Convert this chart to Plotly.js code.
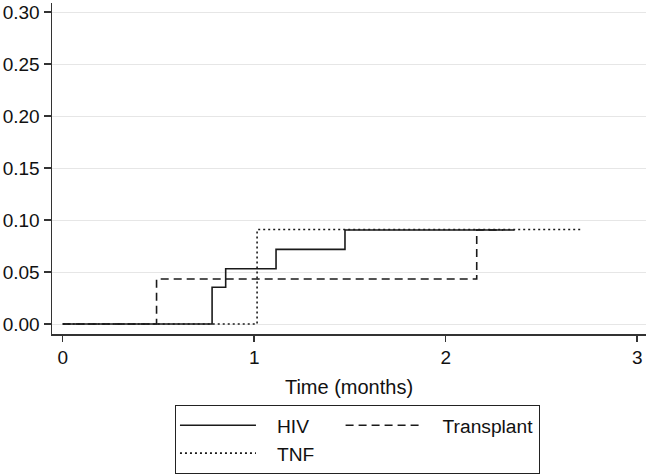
<!DOCTYPE html>
<html>
<head>
<meta charset="utf-8">
<script src="https://cdn.plot.ly/plotly-3.0.1.min.js"></script>
<style>
  body { margin: 0; background: #fff; }
  #plot { width: 650px; height: 475px; }
</style>
</head>
<body>
<div id="plot"></div>
<script>
// cumulative incidence, step functions
const hivTime = [0, 0.78, 0.851, 1.114, 1.474, 2.36];
const hivInc  = [0, 0.0353, 0.0532, 0.0718, 0.0904, 0.0904];

const transplantTime = [0, 0.49, 2.162, 2.30];
const transplantInc  = [0, 0.0433, 0.0904, 0.0904];

const tnfTime = [0, 1.015, 2.71];
const tnfInc  = [0, 0.0909, 0.0909];

const xTicks = [0, 1, 2, 3];
const yTicks = [0, 0.05, 0.10, 0.15, 0.20, 0.25, 0.30];

const lineColor = '#1a1a1a';
const fontFam = '"Liberation Sans", Arial, Helvetica, sans-serif';
const pad = '\u00a0\u00a0\u00a0'; // push legend text away from the line sample
const tail = '\u00a0\u00a0\u00a0\u00a0'; // widen the first legend column

const traces = [
    {
        x: hivTime, y: hivInc, name: pad + 'HIV' + tail,
        type: 'scatter', mode: 'lines', line: { shape: 'hv', color: lineColor, width: 1.6 },
        legendgroup: 'a'
    },
    {
        x: tnfTime, y: tnfInc, name: pad + 'TNF' + tail,
        type: 'scatter', mode: 'lines', line: { shape: 'hv', color: lineColor, width: 1.6, dash: '2px,3px' },
        legendgroup: 'a'
    },
    {
        x: transplantTime, y: transplantInc, name: pad + 'Transplant',
        type: 'scatter', mode: 'lines', line: { shape: 'hv', color: lineColor, width: 1.6, dash: '8px,5px' },
        legendgroup: 'b'
    }
];

const layout = {
    width: 650,
    height: 475,
    margin: { l: 52, r: 4, t: 3, b: 141, autoexpand: false },
    paper_bgcolor: '#fff',
    plot_bgcolor: '#fff',
    font: { family: fontFam, size: 19, color: '#111' },
    showlegend: true,
    legend: {
        orientation: 'h',
        traceorder: 'grouped',
        tracegroupgap: 0,
        itemwidth: 76,
        x: 0.207, xanchor: 'left',
        y: -0.2145, yanchor: 'top',
        bordercolor: '#222',
        borderwidth: 1.2,
        font: { family: fontFam, size: 19.2, color: '#111' }
    },
    xaxis: {
        range: [-0.056, 3.046],
        tickvals: xTicks,
        ticktext: xTicks.map(String),
        showgrid: false,
        zeroline: false,
        showline: true,
        linecolor: '#333',
        linewidth: 1.5,
        ticks: 'outside',
        ticklen: 6,
        tickwidth: 1.5,
        tickcolor: '#333',
        title: { text: 'Time (months)', font: { size: 20 }, standoff: 12 }
    },
    yaxis: {
        range: [-0.0096, 0.3087],
        tickvals: yTicks,
        tickformat: '.2f',
        showgrid: true,
        gridcolor: '#e6e6e6',
        gridwidth: 1,
        zeroline: false,
        showline: true,
        linecolor: '#333',
        linewidth: 1.5,
        ticks: 'outside',
        ticklen: 7,
        tickwidth: 1.5,
        tickcolor: '#333',
        ticklabelstandoff: 0
    }
};

Plotly.newPlot('plot', traces, layout, { displayModeBar: false, staticPlot: true });
</script>
</body>
</html>
